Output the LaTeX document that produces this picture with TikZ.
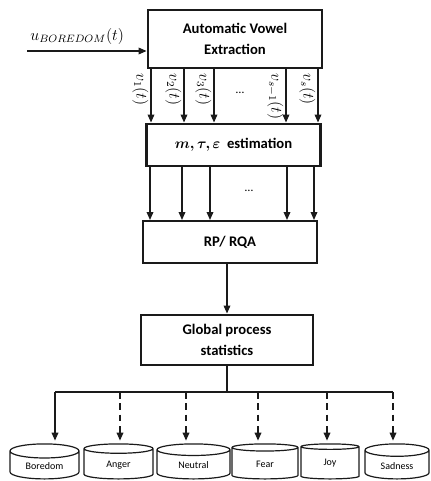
\documentclass[tikz,border=0pt]{standalone}
\usepackage{fontspec}
\usepackage{bm}
\setmainfont{Carlito}
\usetikzlibrary{shapes.geometric, arrows.meta, positioning}
\definecolor{linecolor}{HTML}{1A1A1A}
\newcommand{\vlabel}[1]{{\fontsize{12}{12}\selectfont$#1$}}

\begin{document}
\begin{tikzpicture}[
        x=0.75pt, y=-0.75pt,
        box/.style={
            rectangle,
            draw=linecolor,
            line width=2.2pt,
            align=center,
            font=\fontsize{11}{15.5}\selectfont\bfseries
        },
        db/.style={
            cylinder,
            shape border rotate=90,
            aspect=0.35,
            draw=linecolor,
            line width=0.9pt,
            inner sep=1pt,
            minimum height=26.25pt,
            font=\fontsize{7.5}{9}\selectfont
        },
        wire/.style={line width=1pt, draw=linecolor},
        arrow/.style={-{Triangle[length=6pt, width=5pt]}, line width=1pt, draw=linecolor},
        dasharrow/.style={arrow, dash pattern=on 5pt off 3.5pt}
    ]
        \useasboundingbox (0,0) rectangle (430,481);

        % Nodes
        \node[box, minimum width=130.5pt, minimum height=43.5pt] (vowel) at (235,39) {Automatic Vowel\\Extraction};
        \node[box, minimum width=131pt, minimum height=31.5pt] (mte) at (233.5,145) {$\bm{m,\tau,\varepsilon}$\ \ estimation};
        \node[box, line width=1.5pt, minimum width=130.5pt, minimum height=31.5pt] (rqa) at (230,242) {RP/ RQA};
        \node[box, minimum width=129pt, minimum height=37.5pt] (global) at (227,340) {Global process\\statistics};

        % Input
        \coordinate (input) at (27,51);
        \draw[arrow] (input) -- (input -| vowel.west) node[pos=0.42, above=1pt] {\vlabel{u_{BOREDOM}(t)}};

        % Vowel signals
        \foreach \x/\lab in {151/v_1(t), 184/v_2(t), 214/v_3(t), 286/v_{s-1}(t), 318/v_s(t)} {
            \draw[arrow] (\x,0 |- vowel.south) -- (\x,0 |- mte.north);
            \node[rotate=-90, anchor=north west, inner sep=1pt] at (\x-1,72) {\vlabel{\lab}};
        }
        \node[font=\small] (dotsA) at (240,93) {\dots};

        \foreach \x in {150, 182, 210, 287, 314}
            \draw[arrow] (\x,0 |- mte.south) -- (\x,0 |- rqa.north);
        \node[font=\small] (dotsB) at (249,191) {\dots};

        \draw[arrow] (global.north |- rqa.south) -- (global.north);

        % Classes
        \foreach \name/\cx/\w/\lab in {boredom/44.5/51.75pt/Boredom, anger/118.5/51.75pt/Anger, neutral/193.5/54.75pt/Neutral, fear/265/49.5pt/Fear, joy/330/43.5pt/Joy, sadness/397/48pt/Sadness}
            \node[db, minimum width=\w, anchor=south] (\name) at (\cx,479.5) {\lab};

        \coordinate (split) at (227,392);
        \coordinate (busL) at (55,392);
        \coordinate (busR) at (393,392);
        \draw[wire] (global.south) -- (split);
        \draw[wire] (busL) -- (busR);
        \draw[arrow, shorten >=2pt] (busL) -- (busL |- boredom.north);
        \foreach \x/\name in {120/anger, 186/neutral, 258/fear, 327/joy, 393/sadness}
            \draw[dasharrow, shorten >=2pt] (\x,392) -- (\x,0 |- \name.north);

    \end{tikzpicture}
\end{document}
